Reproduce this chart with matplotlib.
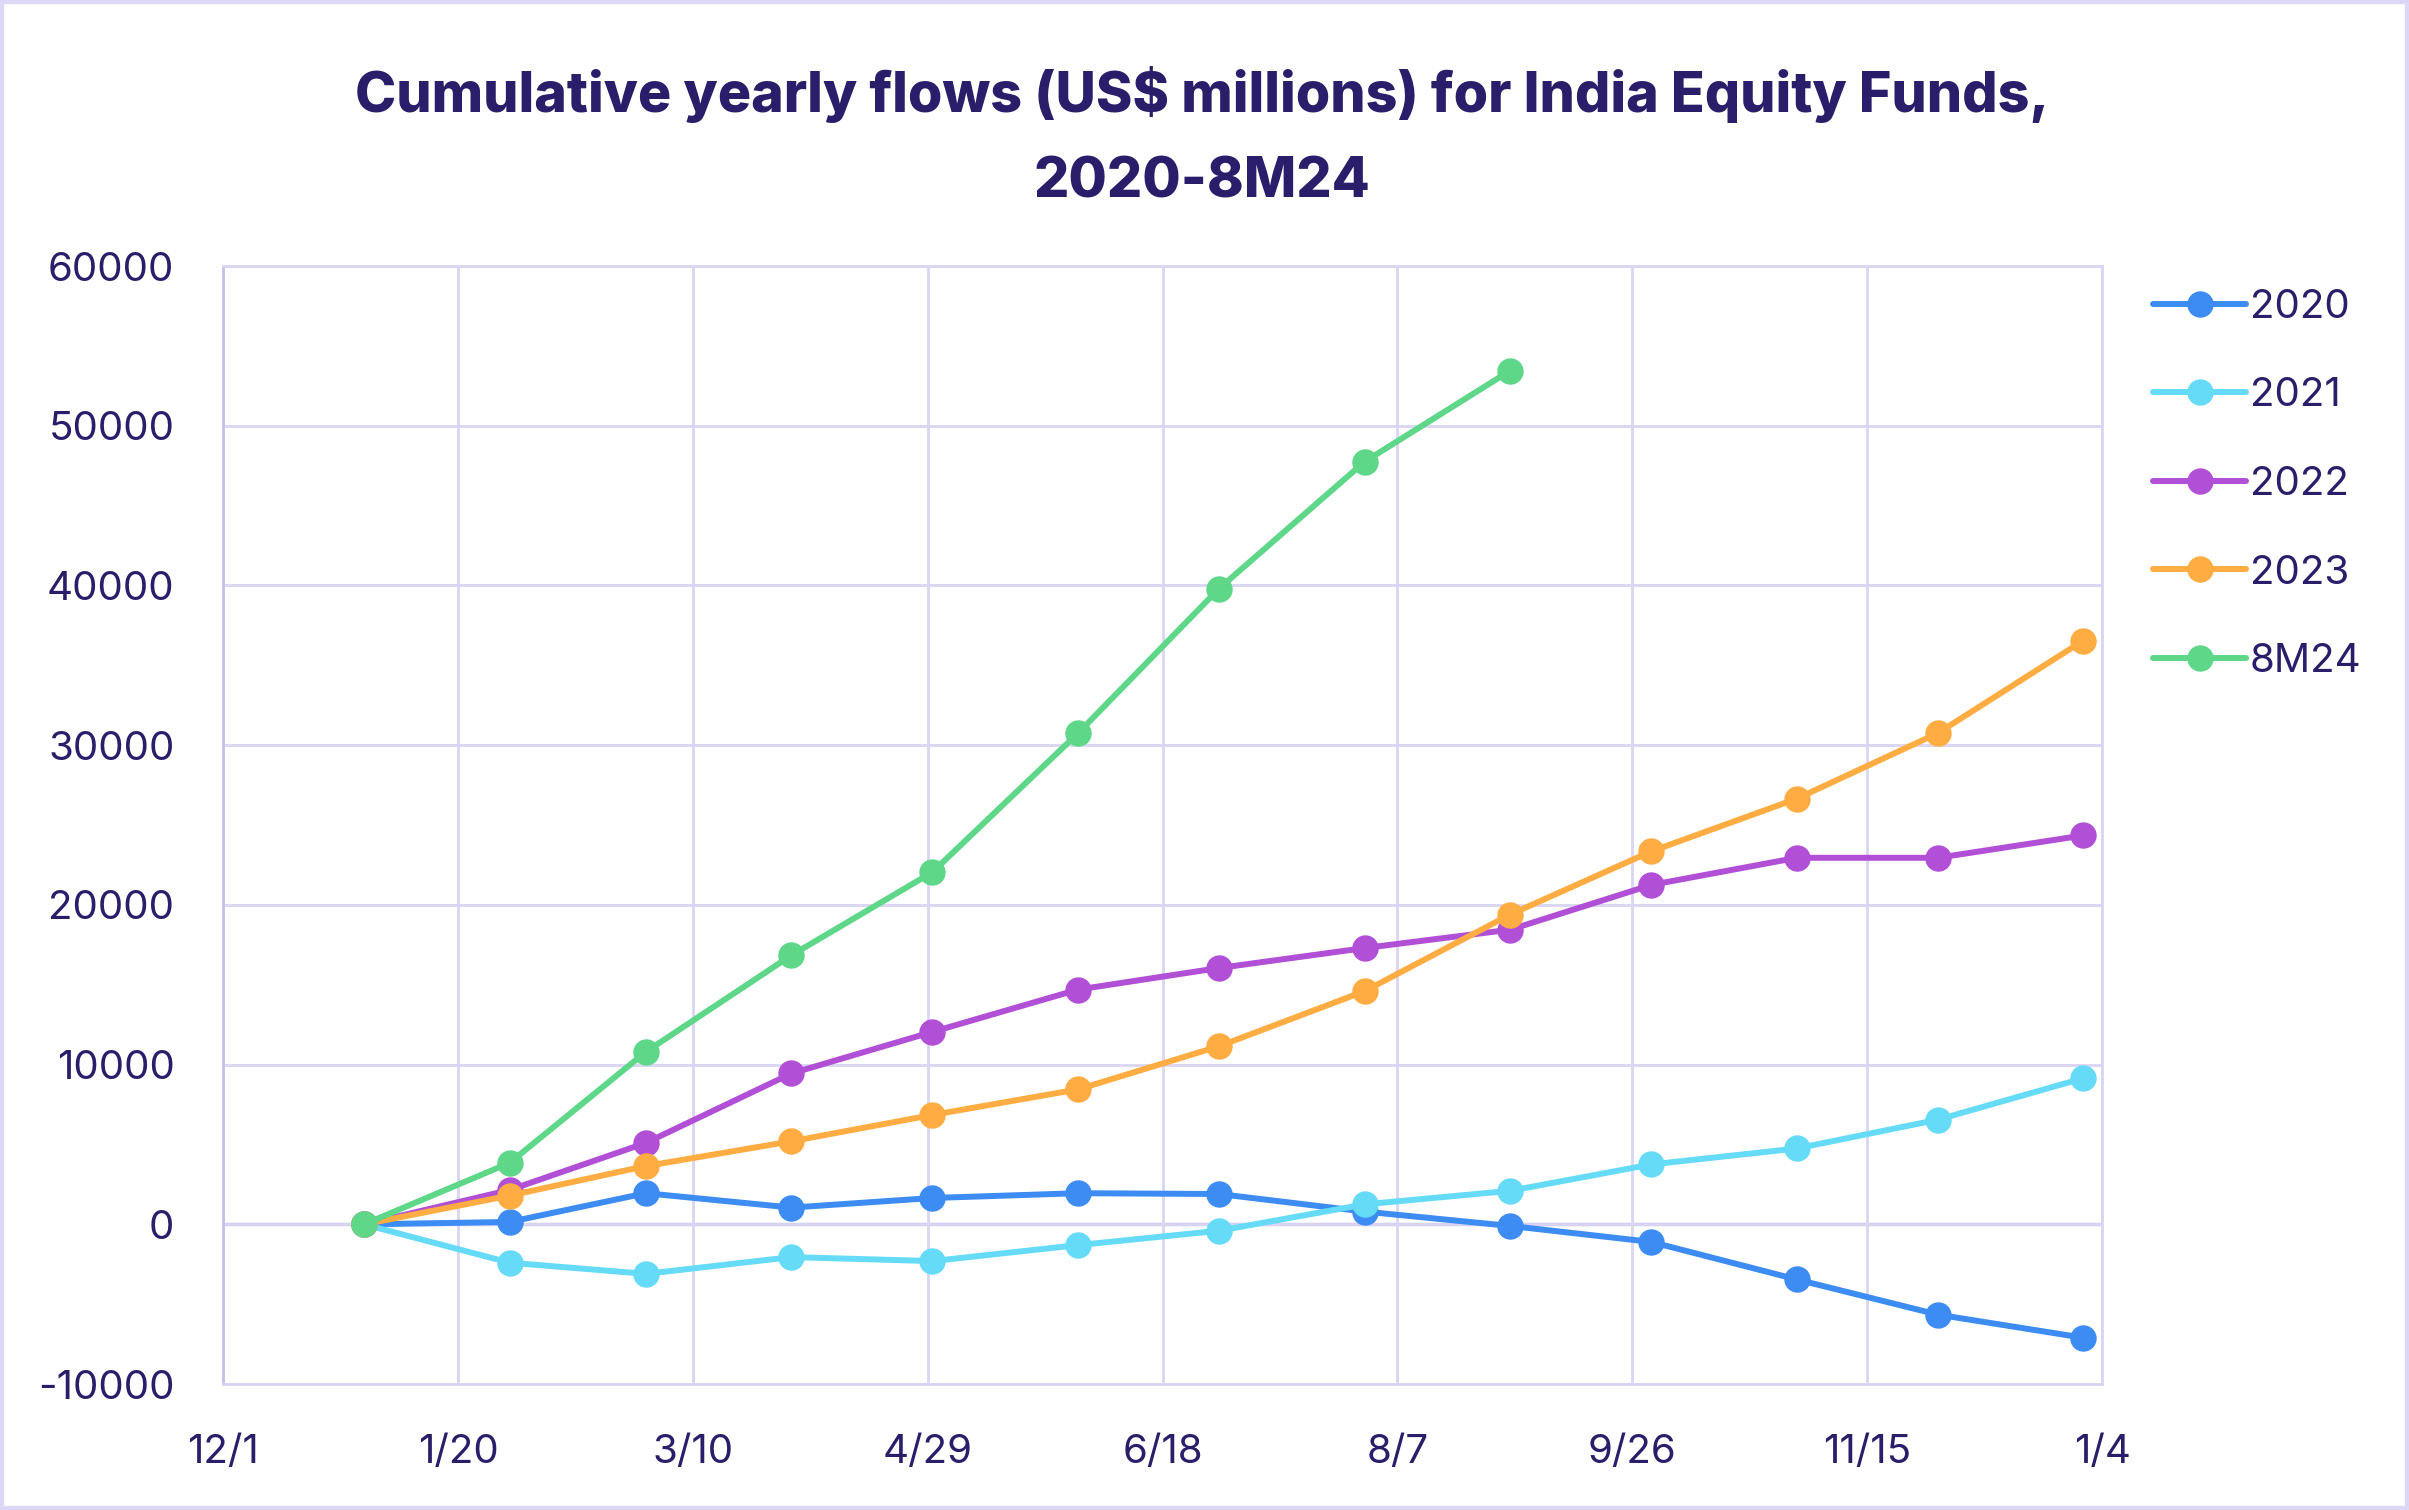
import matplotlib
matplotlib.use("Agg")
import matplotlib.pyplot as plt
from matplotlib.patches import Rectangle
import datetime as dt

# ---- data ----
dates = ["2019-12-31", "2020-01-31", "2020-02-29", "2020-03-31", "2020-04-30",
         "2020-05-31", "2020-06-30", "2020-07-31", "2020-08-31", "2020-09-30",
         "2020-10-31", "2020-11-30", "2020-12-31"]
y2020 = [0, 150, 1950, 1050, 1650, 1950, 1900, 800, -100, -1100, -3450, -5650, -7100]
y2021 = [0, -2400, -3100, -2050, -2300, -1300, -400, 1250, 2100, 3750, 4750, 6550, 9150]
y2022 = [0, 2150, 5100, 9450, 12050, 14700, 16050, 17300, 18450, 21250, 22950, 22950, 24350]
y2023 = [0, 1800, 3650, 5200, 6850, 8450, 11150, 14600, 19400, 23350, 26650, 30750, 36550]
y8m24 = [0, 3850, 10800, 16850, 22050, 30750, 39800, 47750, 53450]

series_names = ["2020", "2021", "2022", "2023", "8M24"]
series_values = [y2020, y2021, y2022, y2023, y8m24]
colors = ["#3C8CF3", "#66DBF8", "#B24FD7", "#FFAC42", "#5ED789"]

yticks = [-10000, 0, 10000, 20000, 30000, 40000, 50000, 60000]
x_start = "2019-12-01"
tick_step_days = 50
n_xticks = 9

title = "Cumulative yearly flows (US$ millions) for India Equity Funds,\n2020-8M24"

# ---- style ----
text_color = "#2A1E6B"
grid_color = "#DAD5F2"
zero_color = "#BBB2E8"
font = ["Inter", "DejaVu Sans"]
plt.rcParams["font.family"] = font

fig = plt.figure(figsize=(24.09, 15.10), dpi=100)
ax = fig.add_axes([0.0926, 0.0834, 0.78, 0.7404])

xd = [dt.datetime.strptime(d, "%Y-%m-%d") for d in dates]
for name, vals, c in zip(series_names, series_values, colors):
    ax.plot(xd[:len(vals)], vals, color=c, lw=4.3, marker="o", ms=18,
            label=name, solid_capstyle="round", zorder=3)

start = dt.datetime.strptime(x_start, "%Y-%m-%d")
xt = [start + dt.timedelta(days=tick_step_days * k) for k in range(n_xticks)]
ax.set_xlim(xt[0], xt[-1])
ax.set_xticks(xt)
ax.set_xticklabels([f"{d.month}/{d.day}" for d in xt])
ax.set_ylim(yticks[0], yticks[-1])
ax.set_yticks(yticks)
ax.set_yticklabels([str(v) for v in yticks])

ax.grid(True, color=grid_color, lw=2, zorder=0)
ax.axhline(0, color=zero_color, lw=2.4, zorder=1)
for s in ["top", "right", "bottom"]:
    ax.spines[s].set_color(grid_color)
    ax.spines[s].set_linewidth(2)
ax.spines["left"].set_color("#C6BFEA")
ax.spines["left"].set_linewidth(2)
ax.tick_params(axis="both", length=0, labelsize=29, colors=text_color)
ax.tick_params(axis="x", pad=36)
ax.tick_params(axis="y", pad=35)

fig.suptitle(title, x=0.499, y=0.956, fontsize=40, fontweight="heavy",
             color=text_color, linespacing=1.8, va="top")

leg = ax.legend(loc="upper left", bbox_to_anchor=(1.008, 1.012), frameon=False,
                fontsize=29, labelcolor=text_color, handlelength=2.3,
                handletextpad=0.1, labelspacing=1.28, markerscale=1.0)

fig.patches.append(Rectangle((0, 0), 1, 1, transform=fig.transFigure, fill=False,
                             edgecolor="#DCD7F5", lw=6, zorder=10))

fig.savefig("out.png", dpi=100, facecolor="white")
